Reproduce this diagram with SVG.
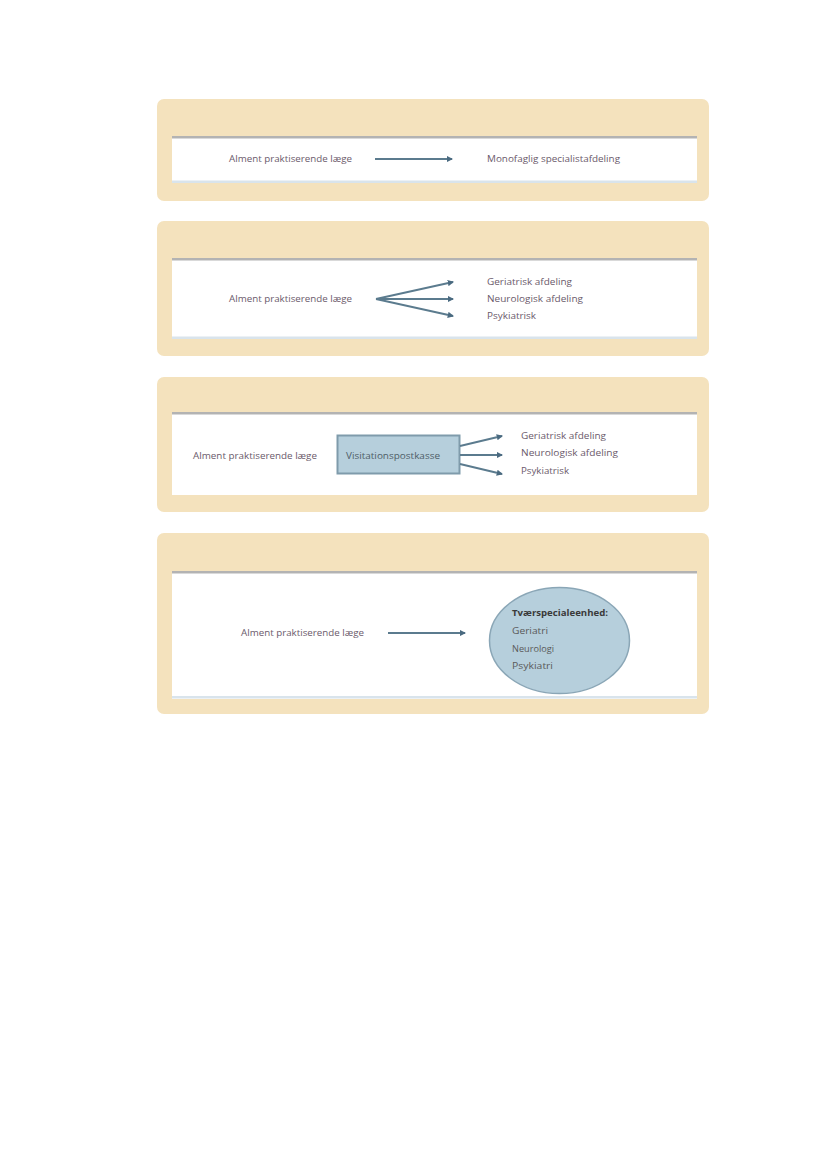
<svg xmlns="http://www.w3.org/2000/svg" width="827" height="1169" viewBox="0 0 827 1169">
<style>
.panel{fill:#f4e2bd}
.inner{fill:#ffffff}
.top{fill:#b3b3b3}
.bot{fill:#d9e4ec}
.t{font-family:"Open Sans","Liberation Sans",sans-serif;font-size:9.5px;fill:#6b5a6b}
.b{font-family:"Open Sans","Liberation Sans",sans-serif;font-size:9.5px;font-weight:bold;fill:#3a3a3a}
.c{stroke:#5b7b8e;stroke-width:1.8;fill:none;marker-end:url(#ah)}
</style>
<defs>
<marker id="ah" viewBox="0 0 6 6" refX="5" refY="3" markerWidth="3.5" markerHeight="3.5" orient="auto" markerUnits="strokeWidth">
<path d="M0,0 L6,3 L0,6 z" fill="#4a6a80"/>
</marker>
</defs>
<rect width="827" height="1169" fill="#ffffff"/>

<g id="panel1">
<rect class="panel" x="157" y="99" width="552" height="102" rx="7"/>
<rect class="inner" x="172" y="137" width="525" height="46"/>
<rect class="top" x="172" y="136" width="525" height="2.5"/>
<rect class="bot" x="172" y="180.5" width="525" height="2.5"/>
</g>
<g id="panel2">
<rect class="panel" x="157" y="221" width="552" height="135" rx="7"/>
<rect class="inner" x="172" y="259" width="525" height="80"/>
<rect class="top" x="172" y="258" width="525" height="2.5"/>
<rect class="bot" x="172" y="336.5" width="525" height="2.5"/>
</g>
<g id="panel3">
<rect class="panel" x="157" y="377" width="552" height="135" rx="7"/>
<rect class="inner" x="172" y="413" width="525" height="82"/>
<rect class="top" x="172" y="412" width="525" height="2.5"/>
</g>
<g id="panel4">
<rect class="panel" x="157" y="533" width="552" height="181" rx="7"/>
<rect class="inner" x="172" y="572" width="525" height="127"/>
<rect class="top" x="172" y="571" width="525" height="2.5"/>
<rect class="bot" x="172" y="696" width="525" height="2.5"/>
</g>

<g id="p1-nodes">
<g id="p1-gp"><text class="t" x="229" y="162" textLength="123" lengthAdjust="spacingAndGlyphs">Alment praktiserende læge</text></g>
<g id="p1-mono"><text class="t" x="487" y="162" textLength="133" lengthAdjust="spacingAndGlyphs">Monofaglig specialistafdeling</text></g>
</g>
<g id="p2-nodes">
<g id="p2-gp"><text class="t" x="229" y="302" textLength="123" lengthAdjust="spacingAndGlyphs">Alment praktiserende læge</text></g>
<g id="p2-ger"><text class="t" x="487" y="285" textLength="85" lengthAdjust="spacingAndGlyphs">Geriatrisk afdeling</text></g>
<g id="p2-neu"><text class="t" x="487" y="302" textLength="96" lengthAdjust="spacingAndGlyphs">Neurologisk afdeling</text></g>
<g id="p2-psy"><text class="t" x="487" y="319" textLength="49" lengthAdjust="spacingAndGlyphs">Psykiatrisk</text></g>
</g>
<g id="p3-nodes">
<g id="p3-gp"><text class="t" x="193" y="459" textLength="124" lengthAdjust="spacingAndGlyphs">Alment praktiserende læge</text></g>
<g id="p3-box">
<rect x="337.5" y="435.5" width="122" height="38" fill="#b6cfdc" stroke="#7f9bab" stroke-width="2"/>
<text class="t" x="346" y="459" textLength="94" lengthAdjust="spacingAndGlyphs" style="fill:#4f5e68">Visitationspostkasse</text>
</g>
<g id="p3-ger"><text class="t" x="521" y="439" textLength="85" lengthAdjust="spacingAndGlyphs">Geriatrisk afdeling</text></g>
<g id="p3-neu"><text class="t" x="521" y="456" textLength="97" lengthAdjust="spacingAndGlyphs">Neurologisk afdeling</text></g>
<g id="p3-psy"><text class="t" x="521" y="474" textLength="48" lengthAdjust="spacingAndGlyphs">Psykiatrisk</text></g>
</g>
<g id="p4-nodes">
<g id="p4-gp"><text class="t" x="241" y="636" textLength="123" lengthAdjust="spacingAndGlyphs">Alment praktiserende læge</text></g>
<g id="p4-unit">
<ellipse cx="559.5" cy="640.5" rx="70" ry="53" fill="#b6cfdc" stroke="#8aa6b6" stroke-width="1.5"/>
<text class="b" x="512" y="616" textLength="96" lengthAdjust="spacingAndGlyphs">Tværspecialeenhed:</text>
<text class="t" x="512" y="634" textLength="36" lengthAdjust="spacingAndGlyphs" style="fill:#5a5a5a">Geriatri</text>
<text class="t" x="512" y="652" textLength="42" lengthAdjust="spacingAndGlyphs" style="fill:#5a5a5a">Neurologi</text>
<text class="t" x="512" y="669" textLength="41" lengthAdjust="spacingAndGlyphs" style="fill:#5a5a5a">Psykiatri</text>
</g>
</g>

<g id="connectors">
<line class="c" x1="375" y1="159" x2="452" y2="159"/>
<line class="c" x1="376" y1="299" x2="453" y2="282"/>
<line class="c" x1="376" y1="299" x2="453" y2="299"/>
<line class="c" x1="376" y1="299" x2="453" y2="316"/>
<line class="c" x1="460" y1="446" x2="502" y2="436"/>
<line class="c" x1="460" y1="455" x2="502" y2="455"/>
<line class="c" x1="460" y1="464" x2="502" y2="474"/>
<line class="c" x1="388" y1="633" x2="465" y2="633"/>
</g>
</svg>
